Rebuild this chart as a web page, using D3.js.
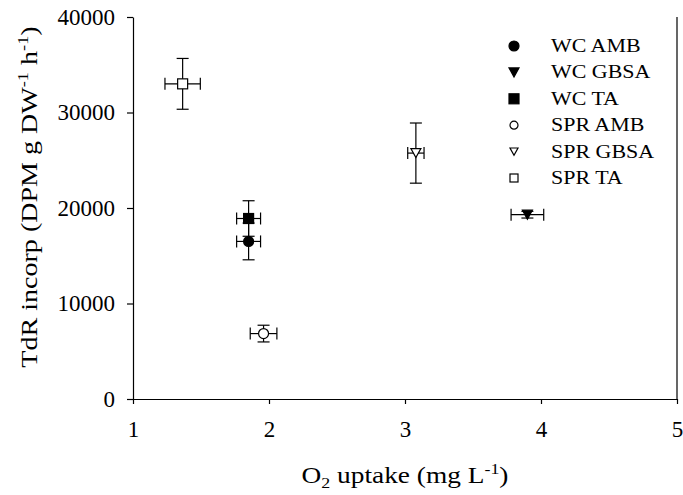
<!DOCTYPE html>
<html>
<head>
<meta charset="utf-8">
<script src="https://cdn.jsdelivr.net/npm/d3@7"></script>
<style>
  body { margin: 0; background: #fff; }
  svg text { font-family: "Liberation Serif", "Times New Roman", serif; fill: #000; }
</style>
</head>
<body>
<div id="wrapper"></div>
<script>
const seriesNames = ['WC AMB', 'WC GBSA', 'WC TA', 'SPR AMB', 'SPR GBSA', 'SPR TA'];
const seriesShapes = ['circle', 'triangle', 'square', 'circle', 'triangle', 'square'];
const seriesFilled = [true, true, true, false, false, false];
const o2Uptake = [1.85, 3.90, 1.85, 1.96, 3.08, 1.365];
const o2Err = [0.088, 0.12, 0.088, 0.098, 0.06, 0.13];
const tdrIncorp = [16500, 19300, 18900, 6850, 25750, 33000];
const tdrErr = [1925, 350, 1860, 875, 3150, 2660];
const xTicks = [1, 2, 3, 4, 5];
const yTicks = [0, 10000, 20000, 30000, 40000];

const dimensions = {
	width: 683,
	height: 495,
	margin: { top: 17, right: 6, bottom: 96, left: 133 }
};
dimensions.boundedWidth = dimensions.width - dimensions.margin.left - dimensions.margin.right;
dimensions.boundedHeight = dimensions.height - dimensions.margin.top - dimensions.margin.bottom;

const data = seriesNames.map((name, i) => ({
	name: name,
	shape: seriesShapes[i],
	filled: seriesFilled[i],
	x: o2Uptake[i],
	xe: o2Err[i],
	y: tdrIncorp[i],
	ye: tdrErr[i]
}));

const x = d3.scaleLinear().domain([ 1, 5 ]).range([ 0, dimensions.boundedWidth ]);
const y = d3.scaleLinear().domain([ 0, 40000 ]).range([ dimensions.boundedHeight, 0 ]);

const svg = d3.select('#wrapper').append('svg').attr('width', dimensions.width).attr('height', dimensions.height);
const bounds = svg.append('g').attr('transform', `translate(${dimensions.margin.left}, ${dimensions.margin.top})`);

// marker drawing
function drawMarker(g, shape, filled, s) {
	const fill = filled ? '#000' : '#fff';
	if (shape === 'circle') {
		g.append('circle').attr('r', s / 2).attr('fill', fill).attr('stroke', '#000').attr('stroke-width', 1.2);
	} else if (shape === 'square') {
		g.append('rect').attr('x', -s / 2).attr('y', -s / 2).attr('width', s).attr('height', s)
			.attr('fill', fill).attr('stroke', '#000').attr('stroke-width', 1.2);
	} else {
		const h = s * 0.9;
		g.append('path').attr('d', `M${-s / 2},${-h / 2}L${s / 2},${-h / 2}L0,${h / 2}Z`)
			.attr('fill', fill).attr('stroke', '#000').attr('stroke-width', 1.2);
	}
}

// axes
const yAxis = bounds.append('g').call(d3.axisLeft(y).tickValues(yTicks).tickSize(6).tickSizeOuter(0).tickFormat(d3.format('d')));
const xAxis = bounds.append('g').attr('transform', `translate(0, ${dimensions.boundedHeight})`)
	.call(d3.axisBottom(x).tickValues(xTicks).tickSize(5).tickSizeOuter(0).tickFormat(d3.format('d')));
[yAxis, xAxis].forEach((a) => {
	a.select('.domain').attr('stroke', '#000').attr('stroke-width', 1.2);
	a.selectAll('.tick line').attr('stroke', '#000').attr('stroke-width', 1.2);
});
yAxis.selectAll('.tick text').attr('font-size', 23).attr('x', -18);
xAxis.selectAll('.tick text').attr('font-size', 23).attr('y', 22);

// right frame line
bounds.append('line')
	.attr('x1', x(5)).attr('x2', x(5))
	.attr('y1', y(40000)).attr('y2', y(0))
	.attr('stroke', '#000').attr('stroke-width', 1.2);

// axis titles (stretched a bit wider, like the original face)
const xTitle = svg.append('g')
	.attr('transform', `translate(${dimensions.margin.left + dimensions.boundedWidth / 2}, 483) scale(1.19, 1)`)
	.append('text')
	.attr('text-anchor', 'middle')
	.attr('font-size', 23);
xTitle.append('tspan').text('O');
xTitle.append('tspan').attr('font-size', 15).attr('dy', 5).text('2');
xTitle.append('tspan').attr('dy', -5).text(' uptake (mg L');
xTitle.append('tspan').attr('font-size', 15).attr('dy', -9).text('-1');
xTitle.append('tspan').attr('dy', 9).text(')');

const yTitle = svg.append('g')
	.attr('transform', `translate(37, 197) rotate(-90) scale(1.22, 1)`)
	.append('text')
	.attr('text-anchor', 'middle')
	.attr('font-size', 23);
yTitle.append('tspan').text('TdR incorp (DPM g DW');
yTitle.append('tspan').attr('font-size', 15).attr('dy', -9).text('-1');
yTitle.append('tspan').attr('dy', 9).text(' h');
yTitle.append('tspan').attr('font-size', 15).attr('dy', -9).text('-1');
yTitle.append('tspan').attr('dy', 9).text(')');

// error bars
const cap = 6;
const err = bounds.append('g').attr('stroke', '#000').attr('stroke-width', 1.2);
data.forEach((d) => {
	const cx = x(d.x), cy = y(d.y);
	const y1 = y(d.y + d.ye), y2 = y(d.y - d.ye);
	const x1 = x(d.x - d.xe), x2 = x(d.x + d.xe);
	err.append('line').attr('x1', cx).attr('x2', cx).attr('y1', y1).attr('y2', y2);
	err.append('line').attr('x1', cx - cap).attr('x2', cx + cap).attr('y1', y1).attr('y2', y1);
	err.append('line').attr('x1', cx - cap).attr('x2', cx + cap).attr('y1', y2).attr('y2', y2);
	err.append('line').attr('x1', x1).attr('x2', x2).attr('y1', cy).attr('y2', cy);
	err.append('line').attr('x1', x1).attr('x2', x1).attr('y1', cy - cap).attr('y2', cy + cap);
	err.append('line').attr('x1', x2).attr('x2', x2).attr('y1', cy - cap).attr('y2', cy + cap);
});

// points
bounds.selectAll('.point')
	.data(data)
	.join('g')
	.attr('class', 'point')
	.attr('transform', (d) => `translate(${x(d.x)}, ${y(d.y)})`)
	.each(function(d) {
		drawMarker(d3.select(this), d.shape, d.filled, 10);
	});

// legend
const legend = svg.append('g').attr('transform', 'translate(514, 46)');
const rows = legend.selectAll('g')
	.data(data)
	.join('g')
	.attr('transform', (d, i) => `translate(0, ${i * 26.4})`);
rows.each(function(d) {
	drawMarker(d3.select(this), d.shape, d.filled, d.filled ? 10 : 8);
});
rows.append('g')
	.attr('transform', 'translate(37, 6) scale(1.22, 1)')
	.append('text')
	.attr('font-size', 18)
	.text((d) => d.name);
</script>
</body>
</html>
